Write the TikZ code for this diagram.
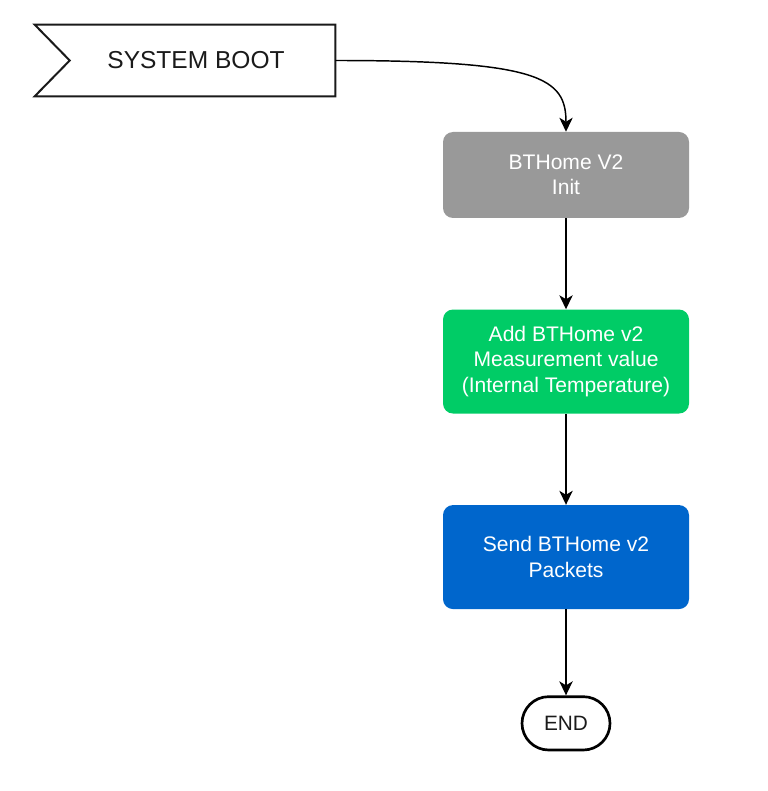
\documentclass[tikz,border=0pt]{standalone}
\usepackage{fontspec}
\setmainfont{Liberation Sans}
\usetikzlibrary{arrows.meta, positioning, calc}
\definecolor{StepGray}{HTML}{999999}
\definecolor{StepGreen}{HTML}{00CC66}
\definecolor{StepBlue}{HTML}{0066CC}
\definecolor{InkBlack}{HTML}{1A1A1A}

\begin{document}
\begin{tikzpicture}[
    x=0.75pt, y=-0.75pt,
    stepbox/.style={rectangle, rounded corners=7.5pt, minimum width=184.5pt,
                text=white, align=center, font=\fontsize{15.8}{19}\selectfont},
    flow/.style={-{Stealth[length=10.5pt, width=10pt, inset=3pt]}, line width=1.1pt, black}
]
    \useasboundingbox (0,0) rectangle (767,791);

    % Start flag
    \node[minimum width=225pt, minimum height=53.25pt, inner sep=0pt] (boot) at (185,60.5) {};
    \draw[line width=1.5pt, InkBlack] (boot.north west) -- (boot.north east) -- (boot.south east)
        -- (boot.south west) -- ($(boot.west)+(35,0)$) -- cycle;
    \node[font=\fontsize{18.4}{22}\selectfont, text=InkBlack] (bootlabel) at (196,60.5) {SYSTEM BOOT};

    % Init
    \node[stepbox, fill=StepGray, minimum height=64.5pt] (init) at (566,175) {
        BTHome V2\\
        Init
    };

    % Measurement
    \node[stepbox, fill=StepGreen, minimum height=78pt, below=68.25pt of init] (measure) {
        Add BTHome v2\\
        Measurement value\\
        (Internal Temperature)
    };

    % Send
    \node[stepbox, fill=StepBlue, minimum height=78pt, below=68.25pt of measure] (send) {
        Send BTHome v2\\
        Packets
    };

    % End
    \node[rectangle, rounded corners=20pt, draw, line width=2pt, minimum width=66pt,
          minimum height=40pt, font=\fontsize{15.6}{19}\selectfont, text=InkBlack,
          below=64.5pt of send] (finish) {END};

    % Arrows
    \draw[flow] (boot.east) .. controls (540,60.5) and (566,78) .. (init.north);
    \draw[flow] (init) -- (measure);
    \draw[flow] (measure) -- (send);
    \draw[flow] (send) -- (finish);
\end{tikzpicture}
\end{document}
